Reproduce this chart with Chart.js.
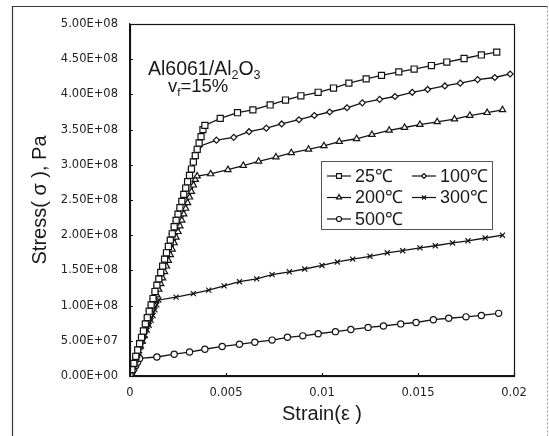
<!DOCTYPE html>
<html>
<head>
<meta charset="utf-8">
<script src="https://cdn.jsdelivr.net/npm/chart.js@4.4.1/dist/chart.umd.min.js"></script>
<style>
  html, body { margin: 0; padding: 0; background: #fff; }
  #stress-chart { display: block; }
</style>
</head>
<body>
<canvas id="stress-chart" width="549" height="436"></canvas>
<script>
// stress-strain curves, Al6061/Al2O3 composite, vf = 15%
// strain is dimensionless, stress is in MPa (converted to Pa for the axis)
const tempLabels = ['25℃', '100℃', '200℃', '300℃', '500℃'];

const strain25 = [0, 0.0001, 0.0002, 0.0003, 0.0004, 0.0005, 0.0006, 0.0007, 0.0008, 0.0009,
  0.0010, 0.0011, 0.0012, 0.0013, 0.0014, 0.0015, 0.0016, 0.0017, 0.0018, 0.0019,
  0.0020, 0.0021, 0.0022, 0.0023, 0.0024, 0.0025, 0.0026, 0.0027, 0.0028, 0.0029,
  0.0030, 0.0031, 0.0032, 0.0033, 0.0034, 0.0035, 0.0036, 0.0037, 0.0038,
  0.0039, 0.0047, 0.0056, 0.0064, 0.0073, 0.0081, 0.0089, 0.0098, 0.0106, 0.0114,
  0.0123, 0.0131, 0.0140, 0.0148, 0.0157, 0.0165, 0.0174, 0.0183, 0.0191];
const stress25 = [0, 9, 18, 28, 37, 46, 55, 64, 74, 83,
  92, 101, 110, 120, 129, 138, 147, 156, 166, 175,
  184, 193, 202, 212, 221, 230, 239, 248, 258, 267,
  276, 285, 294, 304, 313, 322, 331, 340, 350,
  356, 366, 374, 378, 385, 392, 398, 403, 409, 416,
  422, 427, 432, 436, 441, 446, 451, 456, 460];

const strain100 = [0, 0.0001, 0.0002, 0.0003, 0.0004, 0.0005, 0.0006, 0.0007, 0.0008, 0.0009,
  0.0010, 0.0011, 0.0012, 0.0013, 0.0014, 0.0015, 0.0016, 0.0017, 0.0018, 0.0019,
  0.0020, 0.0021, 0.0022, 0.0023, 0.0024, 0.0025, 0.0026, 0.0027, 0.0028, 0.0029,
  0.0030, 0.0031, 0.0032, 0.0033, 0.0034, 0.0035, 0.0036,
  0.0045, 0.0054, 0.0062, 0.0071, 0.0079, 0.0088, 0.0096, 0.0104, 0.0113, 0.0121,
  0.0130, 0.0138, 0.0147, 0.0155, 0.0164, 0.0172, 0.0181, 0.0190, 0.0198];
const stress100 = [0, 9, 18, 28, 37, 46, 55, 64, 73, 83,
  92, 101, 110, 119, 128, 138, 147, 156, 165, 174,
  183, 193, 202, 211, 220, 229, 238, 248, 257, 266,
  275, 284, 293, 303, 312, 321, 326,
  335, 339, 347, 352, 358, 364, 370, 375, 381, 388,
  393, 397, 403, 407, 412, 416, 421, 424, 429];

const strain200 = [0, 0.0001, 0.0002, 0.0003, 0.0004, 0.0005, 0.0006, 0.0007, 0.0008, 0.0009,
  0.0010, 0.0011, 0.0012, 0.0013, 0.0014, 0.0015, 0.0016, 0.0017, 0.0018, 0.0019,
  0.0020, 0.0021, 0.0022, 0.0023, 0.0024, 0.0025, 0.0026, 0.0027, 0.0028, 0.0029,
  0.0030, 0.0031, 0.0032, 0.0033, 0.0034, 0.0035,
  0.0042, 0.0051, 0.0059, 0.0067, 0.0076, 0.0084, 0.0093, 0.0101, 0.0109, 0.0118,
  0.0126, 0.0135, 0.0143, 0.0151, 0.0160, 0.0169, 0.0177, 0.0186, 0.0194];
const stress200 = [0, 8, 16, 25, 33, 41, 49, 57, 66, 74,
  82, 90, 98, 107, 115, 123, 131, 139, 148, 156,
  164, 172, 180, 189, 197, 205, 213, 221, 230, 238,
  246, 254, 262, 271, 279, 284,
  287, 293, 299, 305, 311, 317, 322, 327, 333, 337,
  343, 349, 353, 357, 361, 365, 370, 374, 378];

const strain300 = [0, 0.0001, 0.0002, 0.0003, 0.0004, 0.0005, 0.0006, 0.0007, 0.0008, 0.0009,
  0.0010, 0.0011, 0.0012, 0.0013, 0.0014, 0.0015,
  0.0024, 0.0033, 0.0041, 0.0049, 0.0057, 0.0066, 0.0074, 0.0083, 0.0091, 0.0100,
  0.0108, 0.0116, 0.0125, 0.0134, 0.0142, 0.0151, 0.0159, 0.0168, 0.0176, 0.0185, 0.0194];
const stress300 = [0, 7, 14, 22, 29, 36, 43, 50, 58, 65,
  72, 79, 86, 94, 101, 108,
  112, 117, 122, 128, 134, 138, 144, 148, 152, 157,
  162, 166, 170, 175, 178, 182, 185, 189, 192, 196, 200];

const strain500 = [0, 0.0001, 0.0002, 0.0003, 0.0004, 0.0005,
  0.0014, 0.0023, 0.0031, 0.0039, 0.0048, 0.0057, 0.0065, 0.0074, 0.0082, 0.0090,
  0.0098, 0.0107, 0.0115, 0.0124, 0.0132, 0.0141, 0.0149, 0.0158, 0.0166, 0.0175,
  0.0183, 0.0192];
const stress500 = [0, 5, 10, 15, 20, 25,
  27, 31, 34, 38, 42, 45, 48, 51, 55, 57,
  60, 63, 66, 69, 71, 74, 76, 80, 82, 84,
  86, 89];

const xTickLabels = ['0', '0.005', '0.01', '0.015', '0.02'];
const yTickLabels = ['0.00E+00', '5.00E+07', '1.00E+08', '1.50E+08', '2.00E+08', '2.50E+08',
  '3.00E+08', '3.50E+08', '4.00E+08', '4.50E+08', '5.00E+08'];

const curves = [
  [strain25, stress25],
  [strain100, stress100],
  [strain200, stress200],
  [strain300, stress300],
  [strain500, stress500],
];

// marker per temperature
const markerStyle = [
  { style: 'rect', r: 4.3 },
  { style: 'rectRot', r: 3 },
  { style: 'triangle', r: 3.6 },
  { style: 'crossRot', r: 3.6 },
  { style: 'circle', r: 3.1 },
];

const INK = '#141414';
const TICK_FONT = { family: "'DejaVu Sans', sans-serif", size: 11.5 };
const TEXT_FAMILY = "'Liberation Sans', Arial, sans-serif";

const datasets = curves.map(([xs, ys], i) => ({
  label: tempLabels[i],
  data: xs.map((x, j) => ({ x: x, y: ys[j] * 1e6 })),
  showLine: true,
  borderColor: INK,
  borderWidth: 1.3,
  tension: 0,
  pointStyle: markerStyle[i].style,
  pointRadius: markerStyle[i].r,
  pointBackgroundColor: '#fff',
  pointBorderColor: INK,
  pointBorderWidth: 1.2,
}));

// outer frame, plot box, inward tick marks, material note and legend box
const decor = {
  id: 'decor',
  beforeDraw(chart) {
    const { ctx } = chart;
    ctx.save();
    ctx.fillStyle = '#fff';
    ctx.fillRect(0, 0, chart.width, chart.height);
    ctx.strokeStyle = '#3a3a3a';
    ctx.lineWidth = 1.2;
    ctx.beginPath();
    ctx.moveTo(12.5, chart.height);
    ctx.lineTo(12.5, 6.5);
    ctx.lineTo(547.5, 6.5);
    ctx.stroke();
    ctx.strokeStyle = '#9a9a9a';
    ctx.lineWidth = 1;
    ctx.setLineDash([2, 2]);
    ctx.beginPath();
    ctx.moveTo(547.5, 6.5);
    ctx.lineTo(547.5, chart.height);
    ctx.stroke();
    ctx.restore();
  },
  afterDraw(chart) {
    const { ctx, chartArea: a, scales: { x, y } } = chart;
    ctx.save();
    ctx.strokeStyle = INK;
    ctx.lineWidth = 1.2;
    ctx.strokeRect(a.left + 0.5, a.top + 0.5, a.right - a.left, a.bottom - a.top);

    ctx.beginPath();
    y.ticks.forEach(t => {
      const py = Math.round(y.getPixelForValue(t.value)) + 0.5;
      ctx.moveTo(a.left, py);
      ctx.lineTo(a.left + 3, py);
    });
    x.ticks.forEach(t => {
      const px = Math.round(x.getPixelForValue(t.value)) + 0.5;
      ctx.moveTo(px, a.bottom);
      ctx.lineTo(px, a.bottom - 3);
    });
    ctx.stroke();

    // Al6061/Al2O3, vf=15%
    ctx.fillStyle = '#1a1a1a';
    ctx.textBaseline = 'alphabetic';
    ctx.textAlign = 'left';
    let tx = a.left + 18;
    const run = (txt, size, base) => {
      ctx.font = size + 'px ' + TEXT_FAMILY;
      ctx.fillText(txt, tx, base);
      tx += ctx.measureText(txt).width;
    };
    run('Al6061/Al', 19.5, a.top + 51);
    run('2', 12.5, a.top + 55);
    run('O', 19.5, a.top + 51);
    run('3', 12.5, a.top + 55);
    tx = a.left + 38;
    run('v', 18.5, a.top + 68);
    run('f', 11.5, a.top + 72);
    run('=15%', 18.5, a.top + 68);

    // legend
    const box = { left: a.left + 191, top: a.top + 137, w: 171, h: 68 };
    ctx.strokeStyle = '#555';
    ctx.lineWidth = 1;
    ctx.strokeRect(box.left + 0.5, box.top + 0.5, box.w, box.h);
    ctx.font = '18px ' + TEXT_FAMILY;
    ctx.textBaseline = 'middle';
    tempLabels.forEach((lab, i) => {
      const col = i % 2, row = Math.floor(i / 2);
      const lx = box.left + (col ? 91 : 6);
      const ly = box.top + 15 + row * 21.5;
      ctx.strokeStyle = INK;
      ctx.lineWidth = 1.2;
      ctx.beginPath();
      ctx.moveTo(lx, ly);
      ctx.lineTo(lx + 24, ly);
      ctx.stroke();
      ctx.fillStyle = '#fff';
      Chart.helpers.drawPoint(ctx, {
        pointStyle: markerStyle[i].style,
        radius: markerStyle[i].r * 0.8,
        rotation: 0,
        borderWidth: 1,
      }, lx + 12, ly);
      ctx.fillStyle = '#1a1a1a';
      ctx.fillText(lab, lx + 28, ly + 1);
    });
    ctx.restore();
  }
};

new Chart(document.getElementById('stress-chart'), {
  type: 'scatter',
  data: { datasets: datasets },
  options: {
    responsive: false,
    animation: false,
    layout: { padding: { top: 24, right: 35, left: 0, bottom: 0 } },
    plugins: {
      legend: { display: false },
      tooltip: { enabled: false },
    },
    scales: {
      x: {
        type: 'linear',
        min: 0,
        max: 0.02,
        afterFit: s => { s.height = 60; },
        ticks: {
          stepSize: 0.005,
          color: '#222',
          font: TICK_FONT,
          padding: 10,
          maxRotation: 0,
          callback: (v, i) => xTickLabels[i],
        },
        grid: { drawOnChartArea: false, drawTicks: false },
        border: { color: INK, width: 1.2 },
        title: {
          display: true,
          text: 'Strain(ε )',
          color: '#1a1a1a',
          font: { family: TEXT_FAMILY, size: 20 },
          padding: { top: 0, bottom: 10 },
        },
      },
      y: {
        type: 'linear',
        min: 0,
        max: 5e8,
        afterFit: s => { s.width = 130; },
        ticks: {
          stepSize: 5e7,
          color: '#222',
          font: TICK_FONT,
          padding: 12,
          callback: (v, i) => yTickLabels[i],
        },
        grid: { drawOnChartArea: false, drawTicks: false },
        border: { color: INK, width: 1.2 },
        title: {
          display: true,
          text: 'Stress( σ ), Pa',
          color: '#1a1a1a',
          font: { family: TEXT_FAMILY, size: 20 },
          padding: { top: 28, bottom: 0 },
        },
      },
    },
  },
  plugins: [decor],
});
</script>
</body>
</html>
